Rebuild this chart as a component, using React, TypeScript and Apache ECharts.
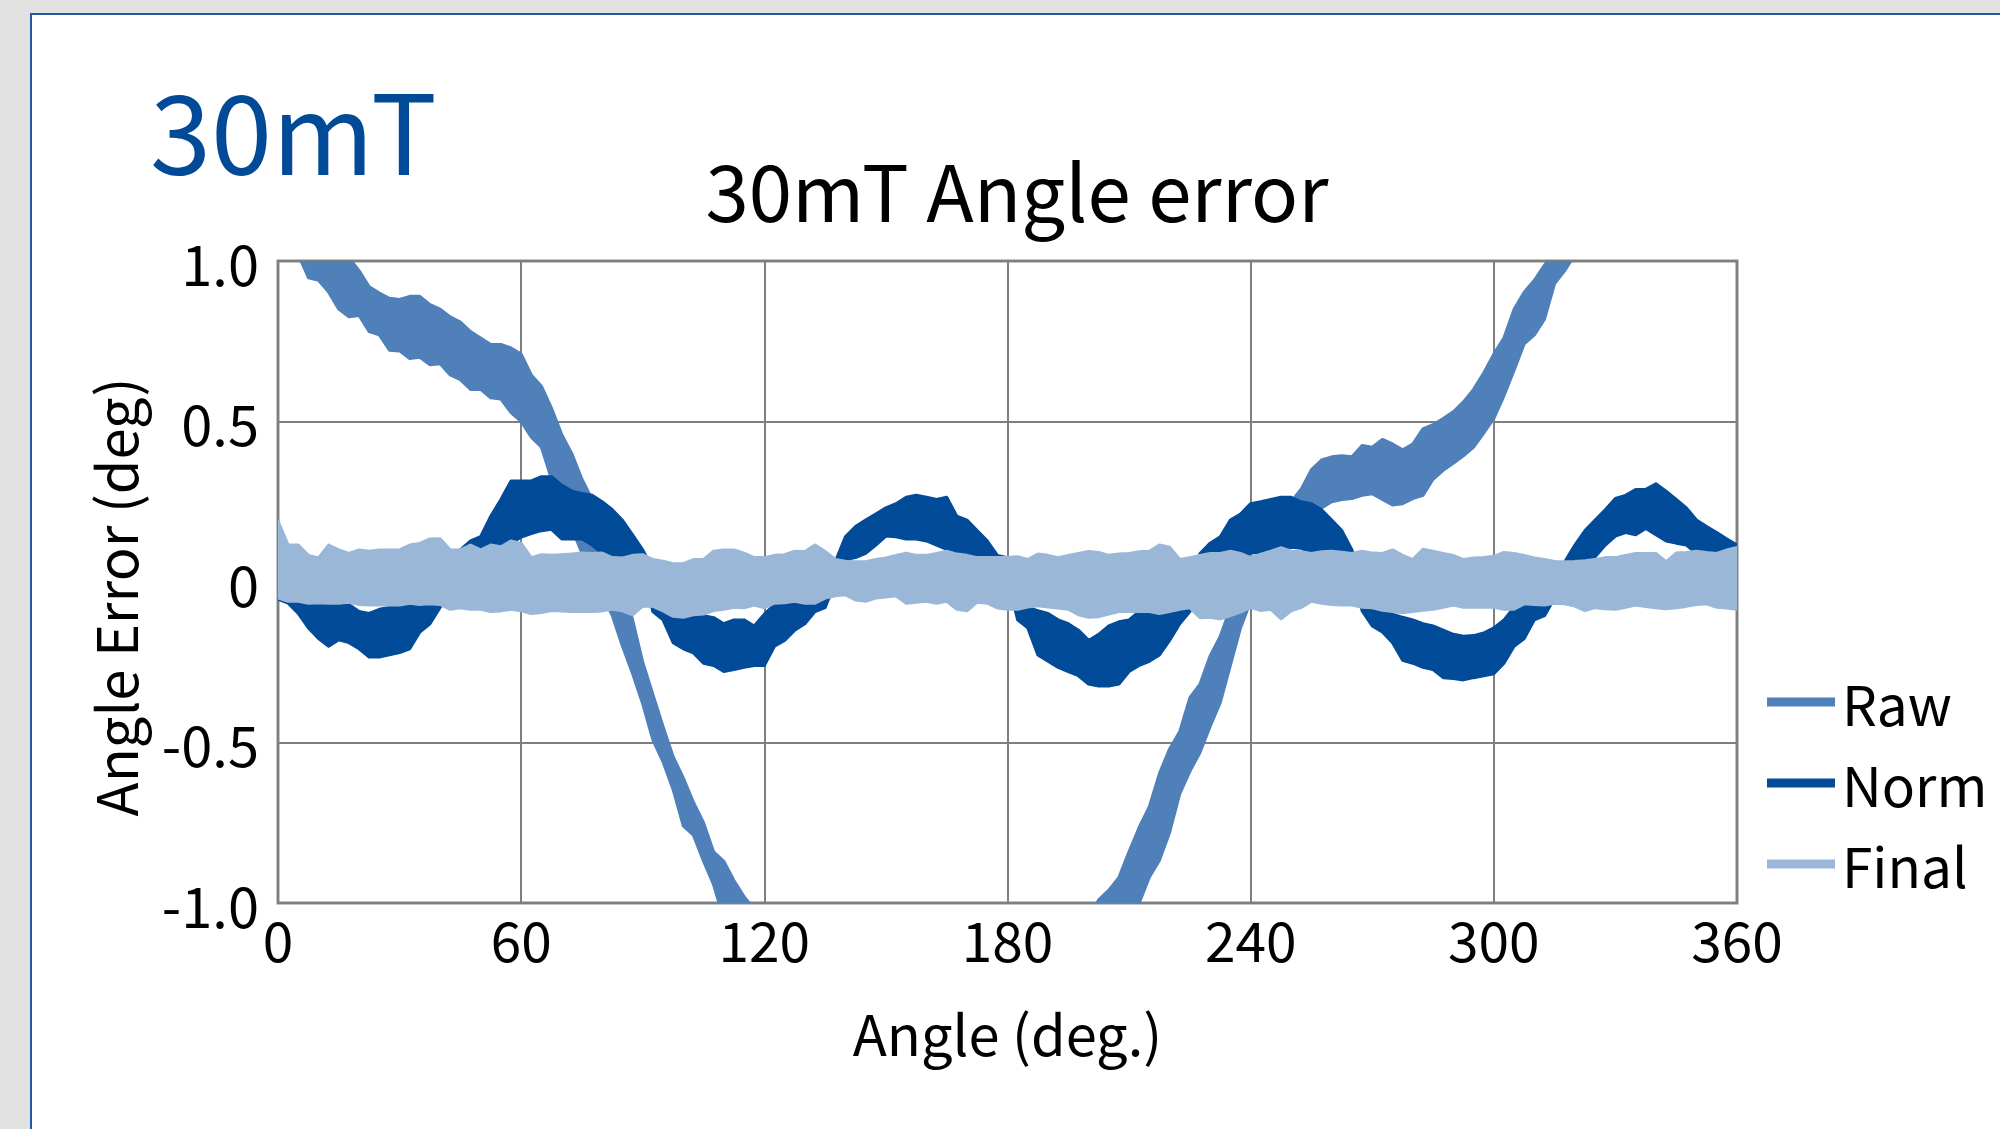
import React, { useEffect, useRef } from "react";
import * as echarts from "echarts";

const FONT = '"Noto Sans CJK JP", "Noto Sans", sans-serif';

// Angle samples (deg), every 2.5°
const angles = [
  0, 2.5, 5, 7.5, 10, 12.5, 15, 17.5, 20, 22.5,
  25, 27.5, 30, 32.5, 35, 37.5, 40, 42.5, 45, 47.5,
  50, 52.5, 55, 57.5, 60, 62.5, 65, 67.5, 70, 72.5,
  75, 77.5, 80, 82.5, 85, 87.5, 90, 92.5, 95, 97.5,
  100, 102.5, 105, 107.5, 110, 112.5, 115, 117.5, 120, 122.5,
  125, 127.5, 130, 132.5, 135, 137.5, 140, 142.5, 145, 147.5,
  150, 152.5, 155, 157.5, 160, 162.5, 165, 167.5, 170, 172.5,
  175, 177.5, 180, 182.5, 185, 187.5, 190, 192.5, 195, 197.5,
  200, 202.5, 205, 207.5, 210, 212.5, 215, 217.5, 220, 222.5,
  225, 227.5, 230, 232.5, 235, 237.5, 240, 242.5, 245, 247.5,
  250, 252.5, 255, 257.5, 260, 262.5, 265, 267.5, 270, 272.5,
  275, 277.5, 280, 282.5, 285, 287.5, 290, 292.5, 295, 297.5,
  300, 302.5, 305, 307.5, 310, 312.5, 315, 317.5, 320, 322.5,
  325, 327.5, 330, 332.5, 335, 337.5, 340, 342.5, 345, 347.5,
  350, 352.5, 355, 357.5, 360,
];

// Raw: upper / lower edge of the plotted band (deg)
const rawUpper = [
  1.3, 1.25, 1.2, 1.15, 1.1, 1.07, 1.04, 1.01, 0.97, 0.92,
  0.9, 0.884, 0.88, 0.89, 0.89, 0.864, 0.85, 0.826, 0.81, 0.78,
  0.76, 0.74, 0.74, 0.729, 0.71, 0.645, 0.61, 0.541, 0.46, 0.4,
  0.32, 0.257, 0.18, 0.089, 0.01, -0.118, -0.25, -0.35, -0.45, -0.544,
  -0.61, -0.686, -0.75, -0.841, -0.87, -0.93, -0.98, -1.02, -1.08, -1.13,
  -1.18, -1.23, -1.28, -1.32, -1.36, -1.39, -1.42, -1.44, -1.46, -1.47,
  -1.48, -1.48, -1.48, -1.47, -1.46, -1.45, -1.43, -1.41, -1.39, -1.37,
  -1.34, -1.31, -1.28, -1.25, -1.22, -1.19, -1.16, -1.13, -1.11, -1.08,
  -1.05, -0.99, -0.96, -0.92, -0.84, -0.764, -0.7, -0.596, -0.52, -0.466,
  -0.36, -0.318, -0.23, -0.169, -0.08, -0.01, 0.03, 0.09, 0.15, 0.2,
  0.25, 0.29, 0.35, 0.38, 0.39, 0.393, 0.39, 0.425, 0.42, 0.444,
  0.43, 0.412, 0.43, 0.477, 0.49, 0.509, 0.53, 0.561, 0.6, 0.651,
  0.71, 0.761, 0.85, 0.903, 0.94, 0.987, 1.03, 1.06, 1.1, 1.14,
  1.17, 1.2, 1.22, 1.24, 1.26, 1.28, 1.29, 1.3, 1.31, 1.32,
  1.32, 1.32, 1.31, 1.3, 1.3,
];
const rawLower = [
  1.1, 1.06, 1.02, 0.948, 0.94, 0.903, 0.85, 0.826, 0.83, 0.78,
  0.77, 0.722, 0.72, 0.696, 0.7, 0.677, 0.68, 0.645, 0.63, 0.6,
  0.6, 0.574, 0.57, 0.528, 0.5, 0.451, 0.42, 0.32, 0.24, 0.167,
  0.09, 0.025, -0.04, -0.105, -0.2, -0.286, -0.38, -0.492, -0.56, -0.647,
  -0.76, -0.789, -0.87, -0.944, -1.05, -1.1, -1.15, -1.2, -1.25, -1.3,
  -1.35, -1.4, -1.45, -1.49, -1.52, -1.55, -1.58, -1.6, -1.62, -1.63,
  -1.64, -1.64, -1.64, -1.63, -1.62, -1.61, -1.59, -1.57, -1.55, -1.53,
  -1.5, -1.47, -1.44, -1.41, -1.38, -1.35, -1.32, -1.29, -1.26, -1.23,
  -1.2, -1.15, -1.1, -1.08, -1.04, -1.0, -0.92, -0.867, -0.78, -0.66,
  -0.59, -0.531, -0.45, -0.376, -0.26, -0.143, -0.06, 0.0, 0.06, 0.11,
  0.15, 0.2, 0.22, 0.231, 0.25, 0.257, 0.26, 0.27, 0.275, 0.257,
  0.24, 0.244, 0.26, 0.27, 0.32, 0.348, 0.37, 0.393, 0.42, 0.464,
  0.51, 0.58, 0.66, 0.742, 0.77, 0.819, 0.93, 0.97, 1.02, 1.06,
  1.09, 1.12, 1.14, 1.16, 1.17, 1.18, 1.19, 1.2, 1.2, 1.19,
  1.18, 1.16, 1.14, 1.12, 1.1,
];

// Norm: upper / lower edge
const normUpper = [
  0.0, -0.01, -0.03, -0.05, -0.06, -0.05, -0.04, -0.07, -0.092, -0.098,
  -0.085, -0.079, -0.066, -0.063, -0.06, -0.05, -0.03, 0.04, 0.1, 0.128,
  0.141, 0.205, 0.257, 0.315, 0.315, 0.315, 0.328, 0.328, 0.302, 0.283,
  0.276, 0.27, 0.25, 0.225, 0.192, 0.147, 0.1, 0.04, 0.0, -0.03,
  -0.05, -0.08, -0.105, -0.111, -0.13, -0.118, -0.118, -0.137, -0.1, -0.07,
  -0.06, -0.05, -0.04, -0.02, 0.0, 0.063, 0.141, 0.173, 0.193, 0.212,
  0.231, 0.244, 0.264, 0.27, 0.264, 0.257, 0.264, 0.205, 0.193, 0.16,
  0.128, 0.083, 0.076, -0.072, -0.079, -0.089, -0.098, -0.118, -0.13, -0.15,
  -0.182, -0.163, -0.137, -0.124, -0.118, -0.092, -0.085, -0.092, -0.085, -0.06,
  -0.04, 0.089, 0.121, 0.141, 0.193, 0.212, 0.244, 0.25, 0.257, 0.264,
  0.264, 0.25, 0.244, 0.225, 0.193, 0.16, 0.1, 0.0, -0.07, -0.09,
  -0.1, -0.11, -0.118, -0.13, -0.137, -0.15, -0.163, -0.169, -0.167, -0.159,
  -0.143, -0.118, -0.079, -0.06, -0.04, -0.02, 0.0, 0.063, 0.115, 0.16,
  0.193, 0.225, 0.26, 0.27, 0.288, 0.289, 0.306, 0.283, 0.257, 0.231,
  0.193, 0.173, 0.154, 0.134, 0.115,
];
const normLower = [
  -0.053, -0.066, -0.098, -0.143, -0.176, -0.2, -0.18, -0.189, -0.208, -0.234,
  -0.234, -0.227, -0.22, -0.208, -0.156, -0.13, -0.079, -0.04, 0.02, 0.04,
  0.05, 0.08, 0.11, 0.12, 0.14, 0.151, 0.16, 0.164, 0.134, 0.134,
  0.134, 0.115, 0.089, 0.076, 0.07, 0.063, 0.037, -0.092, -0.118, -0.189,
  -0.208, -0.221, -0.253, -0.26, -0.279, -0.273, -0.266, -0.26, -0.26, -0.2,
  -0.182, -0.15, -0.13, -0.092, -0.08, 0.0, 0.07, 0.076, 0.089, 0.115,
  0.143, 0.141, 0.134, 0.134, 0.128, 0.115, 0.102, 0.076, 0.076, 0.07,
  0.063, 0.04, 0.01, -0.118, -0.143, -0.227, -0.247, -0.266, -0.279, -0.292,
  -0.318, -0.324, -0.324, -0.318, -0.279, -0.26, -0.247, -0.227, -0.182, -0.13,
  -0.092, -0.03, 0.0, 0.03, 0.05, 0.07, 0.09, 0.092, 0.096, 0.102,
  0.108, 0.105, 0.09, 0.096, 0.096, 0.07, 0.04, -0.09, -0.137, -0.156,
  -0.189, -0.244, -0.253, -0.266, -0.273, -0.298, -0.301, -0.305, -0.298, -0.292,
  -0.286, -0.253, -0.2, -0.176, -0.118, -0.105, -0.05, -0.01, 0.066, 0.07,
  0.079, 0.115, 0.143, 0.154, 0.147, 0.167, 0.147, 0.128, 0.121, 0.115,
  0.089, 0.083, 0.083, 0.089, 0.07,
];

// Final: upper / lower edge
const finalUpper = [
  0.19, 0.115, 0.115, 0.083, 0.075, 0.115, 0.1, 0.089, 0.1, 0.096,
  0.1, 0.1, 0.1, 0.115, 0.12, 0.134, 0.135, 0.1, 0.1, 0.115,
  0.1, 0.115, 0.11, 0.128, 0.12, 0.076, 0.085, 0.083, 0.085, 0.087,
  0.09, 0.089, 0.09, 0.076, 0.075, 0.083, 0.085, 0.07, 0.065, 0.057,
  0.057, 0.07, 0.07, 0.096, 0.1, 0.1, 0.09, 0.076, 0.076, 0.083,
  0.085, 0.096, 0.095, 0.115, 0.095, 0.07, 0.065, 0.063, 0.063, 0.07,
  0.075, 0.083, 0.09, 0.083, 0.083, 0.089, 0.096, 0.087, 0.083, 0.076,
  0.076, 0.076, 0.076, 0.079, 0.07, 0.087, 0.083, 0.076, 0.083, 0.089,
  0.095, 0.092, 0.083, 0.087, 0.089, 0.094, 0.096, 0.115, 0.108, 0.07,
  0.076, 0.083, 0.089, 0.089, 0.096, 0.089, 0.076, 0.087, 0.096, 0.107,
  0.096, 0.094, 0.089, 0.094, 0.096, 0.093, 0.089, 0.096, 0.09, 0.089,
  0.1, 0.083, 0.07, 0.102, 0.096, 0.089, 0.083, 0.07, 0.075, 0.076,
  0.08, 0.092, 0.089, 0.083, 0.075, 0.07, 0.064, 0.063, 0.064, 0.066,
  0.07, 0.076, 0.076, 0.083, 0.089, 0.089, 0.089, 0.063, 0.09, 0.092,
  0.096, 0.092, 0.089, 0.1, 0.108,
];
const finalLower = [
  -0.05, -0.06, -0.06, -0.066, -0.065, -0.066, -0.066, -0.063, -0.07, -0.072,
  -0.072, -0.072, -0.072, -0.066, -0.07, -0.068, -0.07, -0.085, -0.08, -0.085,
  -0.085, -0.092, -0.09, -0.085, -0.09, -0.098, -0.095, -0.089, -0.09, -0.092,
  -0.092, -0.092, -0.09, -0.085, -0.09, -0.102, -0.075, -0.076, -0.09, -0.107,
  -0.11, -0.102, -0.1, -0.089, -0.085, -0.079, -0.08, -0.072, -0.08, -0.066,
  -0.065, -0.06, -0.066, -0.066, -0.05, -0.043, -0.04, -0.056, -0.06, -0.05,
  -0.047, -0.043, -0.066, -0.063, -0.06, -0.066, -0.06, -0.085, -0.09, -0.063,
  -0.066, -0.081, -0.085, -0.085, -0.078, -0.074, -0.078, -0.081, -0.085, -0.102,
  -0.11, -0.108, -0.1, -0.092, -0.092, -0.092, -0.092, -0.098, -0.092, -0.085,
  -0.08, -0.111, -0.11, -0.115, -0.105, -0.094, -0.079, -0.089, -0.085, -0.115,
  -0.09, -0.079, -0.06, -0.066, -0.07, -0.072, -0.072, -0.079, -0.08, -0.088,
  -0.092, -0.096, -0.092, -0.088, -0.085, -0.079, -0.072, -0.079, -0.079, -0.079,
  -0.079, -0.085, -0.085, -0.068, -0.07, -0.072, -0.066, -0.068, -0.075, -0.089,
  -0.08, -0.083, -0.085, -0.079, -0.072, -0.076, -0.08, -0.083, -0.08, -0.076,
  -0.07, -0.068, -0.079, -0.081, -0.085,
];

const xTicks = { min: 0, max: 360, interval: 60 };
const yTicks = { min: -1, max: 1, interval: 0.5 };

const COLORS = { Raw: "#4f80ba", Norm: "#024b98", Final: "#9ab7d7" };

function bandSeries(name: string, color: string, lower: number[], upper: number[]) {
  const data = angles.map((a, i) => [a, lower[i], upper[i]]);
  return {
    name,
    type: "custom",
    coordinateSystem: "cartesian2d",
    clip: true,
    silent: true,
    itemStyle: { color },
    encode: { x: 0, y: [1, 2] },
    data,
    renderItem: (params: any, api: any) => {
      if (params.dataIndex !== 0) return null;
      const top = data.map((d) => api.coord([d[0], d[2]]));
      const bottom = data.map((d) => api.coord([d[0], d[1]])).reverse();
      return {
        type: "polygon",
        shape: { points: top.concat(bottom) },
        style: { fill: color, stroke: color, lineWidth: 3, lineJoin: "round" },
      };
    },
  };
}

export default function App() {
  const ref = useRef<HTMLDivElement>(null);
  useEffect(() => {
    if (!ref.current) return;
    const chart = echarts.init(ref.current, null, { renderer: "svg" });
    chart.setOption({
      animation: false,
      backgroundColor: "#e1e1e1",
      textStyle: { fontFamily: FONT },
      graphic: [
        {
          type: "rect",
          z: -10,
          shape: { x: 31, y: 14, width: 2100, height: 1300 },
          style: { fill: "#ffffff", stroke: "#1f5aa5", lineWidth: 2 },
          silent: true,
        },
        {
          type: "text",
          left: 150,
          top: 72,
          style: { text: "30mT", fontSize: 110, fontFamily: FONT, fill: "#004a98" },
        },
        {
          type: "text",
          x: 1017,
          y: 188,
          style: {
            text: "30mT Angle error",
            fontSize: 78,
            fontFamily: FONT,
            fill: "#000",
            align: "center",
            verticalAlign: "middle",
          },
        },
        {
          type: "text",
          x: 113,
          y: 597,
          rotation: Math.PI / 2,
          style: {
            text: "Angle Error (deg)",
            fontSize: 56,
            fontFamily: FONT,
            fill: "#000",
            align: "center",
            verticalAlign: "middle",
          },
        },
      ],
      grid: {
        left: 278,
        top: 261,
        width: 1459,
        height: 642,
        show: true,
        borderColor: "#898989",
        borderWidth: 3,
        backgroundColor: "transparent",
      },
      legend: {
        data: ["Raw", "Norm", "Final"],
        orient: "vertical",
        left: 1762,
        top: 665,
        icon: "rect",
        itemWidth: 68,
        itemHeight: 9,
        itemGap: 17,
        selectedMode: false,
        textStyle: {
          fontSize: 55,
          lineHeight: 64,
          fontFamily: FONT,
          color: "#000",
          padding: [0, 0, 0, 2],
        },
      },
      xAxis: {
        type: "value",
        ...xTicks,
        name: "Angle (deg.)",
        nameLocation: "middle",
        nameGap: 100,
        nameTextStyle: { fontSize: 56, fontFamily: FONT, color: "#000" },
        axisLine: { show: false },
        axisTick: { show: false },
        axisLabel: { fontSize: 55, fontFamily: FONT, color: "#000", margin: 7 },
        splitLine: { show: true, lineStyle: { color: "#7f7f7f", width: 2 } },
      },
      yAxis: {
        type: "value",
        ...yTicks,
        axisLine: { show: false },
        axisTick: { show: false },
        axisLabel: {
          fontSize: 56,
          fontFamily: FONT,
          color: "#000",
          margin: 19,
          padding: [0, 0, 14, 0],
          formatter: (v: number) => (v === 0 ? "0" : v.toFixed(1)),
        },
        splitLine: { show: true, lineStyle: { color: "#7f7f7f", width: 2 } },
      },
      series: [
        bandSeries("Raw", COLORS.Raw, rawLower, rawUpper),
        bandSeries("Norm", COLORS.Norm, normLower, normUpper),
        bandSeries("Final", COLORS.Final, finalLower, finalUpper),
      ],
    });
    return () => chart.dispose();
  }, []);
  return (
    <div
      ref={ref}
      style={{ position: "fixed", left: 0, top: 0, width: 2000, height: 1129 }}
    />
  );
}
